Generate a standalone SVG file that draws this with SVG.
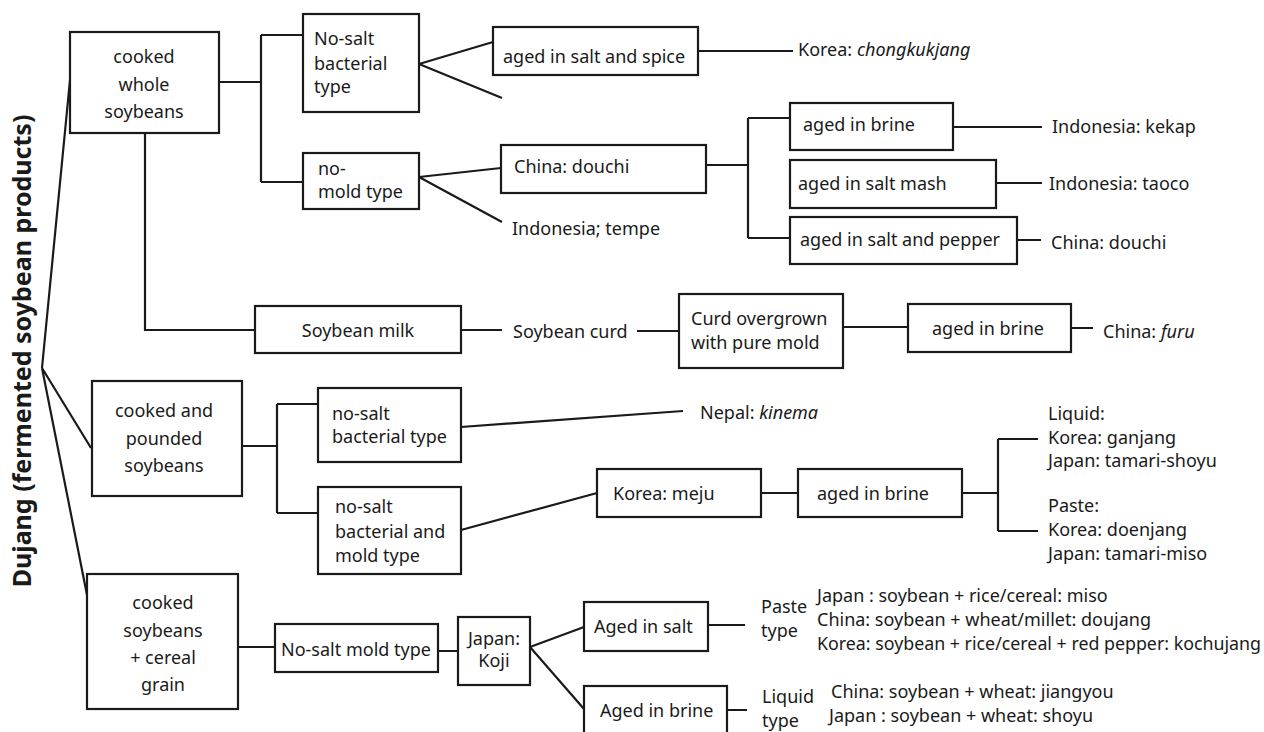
<svg xmlns="http://www.w3.org/2000/svg" width="1264" height="732" viewBox="0 0 1264 732">
<style>
  .bx{fill:#fff;stroke:#1a1a1a;stroke-width:2.2}
  .ln{fill:none;stroke:#1a1a1a;stroke-width:2.2}
  text{font-family:"Noto Sans","Open Sans","Liberation Sans",sans-serif;font-size:18px;fill:#1a1a1a}
  .c{text-anchor:middle}
  .i{font-style:italic}
  .title{font-weight:bold;font-size:25px}
</style>
<rect width="1264" height="732" fill="#fff"/>
<g id="connectors">
  <path class="ln" d="M42,368 L70,80 M42,368 L91,448 M42,368 L87,595"/>
  <path class="ln" d="M219,82 H261 M261,35 V182 M261,35 H303 M261,182 H303"/>
  <path class="ln" d="M145,133 V330 H255"/>
  <path class="ln" d="M419,64 L493,42 M419,64 L502,98"/>
  <path class="ln" d="M698,51 H793"/>
  <path class="ln" d="M419,177 L501,168 M419,177 L502,222"/>
  <path class="ln" d="M706,165 H748 M748,118 V238 M748,118 H790 M748,238 H790"/>
  <path class="ln" d="M953,127 H1042 M996,183 H1042 M1017,240 H1041"/>
  <path class="ln" d="M461,330 H502 M637,331 H679 M843,327 H908 M1071,328 H1093"/>
  <path class="ln" d="M241,446 H277 M277,404 V513 M277,404 H318 M277,513 H318"/>
  <path class="ln" d="M461,427 L683,411"/>
  <path class="ln" d="M461,530 L597,493 M761,493 H798"/>
  <path class="ln" d="M962,493 H998 M998,439 V531 M998,439 H1038 M998,531 H1038"/>
  <path class="ln" d="M238,647 H275 M438,651 H458 M530,647 L584,627 M530,647 L584,709 M708,625 H745 M727,710 H747"/>
</g>
<g id="root"><text class="title c" transform="translate(31,351) rotate(-90)">Dujang (fermented soybean products)</text></g>
<g id="whole"><rect class="bx" x="70" y="32" width="149" height="101"/>
  <text class="c" x="144" y="63">cooked</text><text class="c" x="144" y="91">whole</text><text class="c" x="144" y="118">soybeans</text></g>
<g id="nosalt-bact1"><rect class="bx" x="303" y="14" width="116" height="98"/>
  <text x="314" y="45">No-salt</text><text x="314" y="70">bacterial</text><text x="314" y="93">type</text></g>
<g id="nomold"><rect class="bx" x="303" y="153" width="116" height="56"/>
  <text x="318" y="175">no-</text><text x="318" y="198">mold type</text></g>
<g id="spice"><rect class="bx" x="493" y="27" width="205" height="48"/><text x="503" y="63">aged in salt and spice</text></g>
<g id="chongkukjang"><text x="798" y="56">Korea: <tspan class="i">chongkukjang</tspan></text></g>
<g id="douchi-box"><rect class="bx" x="501" y="145" width="205" height="48"/><text x="514" y="173">China: douchi</text></g>
<g id="tempe"><text x="512" y="235">Indonesia; tempe</text></g>
<g id="brine1"><rect class="bx" x="790" y="103" width="163" height="47"/><text x="803" y="131">aged in brine</text></g>
<g id="mash"><rect class="bx" x="790" y="160" width="206" height="48"/><text x="798" y="190">aged in salt mash</text></g>
<g id="pepper"><rect class="bx" x="790" y="217" width="227" height="47"/><text x="800" y="246">aged in salt and pepper</text></g>
<g id="kekap"><text x="1052" y="133">Indonesia: kekap</text></g>
<g id="taoco"><text x="1049" y="190">Indonesia: taoco</text></g>
<g id="douchi2"><text x="1051" y="249">China: douchi</text></g>
<g id="milk"><rect class="bx" x="255" y="306" width="206" height="47"/><text class="c" x="358" y="337">Soybean milk</text></g>
<g id="curd"><text x="513" y="338">Soybean curd</text></g>
<g id="curdmold"><rect class="bx" x="679" y="294" width="164" height="74"/>
  <text x="691" y="325">Curd overgrown</text><text x="691" y="349">with pure mold</text></g>
<g id="brine2"><rect class="bx" x="908" y="304" width="163" height="48"/><text x="932" y="335">aged in brine</text></g>
<g id="furu"><text x="1103" y="338">China: <tspan class="i">furu</tspan></text></g>
<g id="pounded"><rect class="bx" x="92" y="381" width="150" height="115"/>
  <text class="c" x="164" y="417">cooked and</text><text class="c" x="164" y="445">pounded</text><text class="c" x="164" y="472">soybeans</text></g>
<g id="nosalt-bact2"><rect class="bx" x="318" y="388" width="143" height="74"/>
  <text x="332" y="420">no-salt</text><text x="332" y="443">bacterial type</text></g>
<g id="kinema"><text x="700" y="419">Nepal: <tspan class="i">kinema</tspan></text></g>
<g id="bactmold"><rect class="bx" x="318" y="487" width="143" height="87"/>
  <text x="335" y="513">no-salt</text><text x="335" y="538">bacterial and</text><text x="335" y="562">mold type</text></g>
<g id="meju"><rect class="bx" x="597" y="469" width="164" height="48"/><text x="613" y="500">Korea: meju</text></g>
<g id="brine3"><rect class="bx" x="798" y="469" width="164" height="48"/><text x="817" y="500">aged in brine</text></g>
<g id="liquid-list"><text x="1048" y="420">Liquid:</text><text x="1048" y="444">Korea: ganjang</text><text x="1048" y="467">Japan: tamari-shoyu</text></g>
<g id="paste-list"><text x="1048" y="512">Paste:</text><text x="1048" y="536">Korea: doenjang</text><text x="1048" y="560">Japan: tamari-miso</text></g>
<g id="cereal"><rect class="bx" x="87" y="574" width="151" height="135"/>
  <text class="c" x="163" y="609">cooked</text><text class="c" x="163" y="637">soybeans</text><text class="c" x="163" y="664">+ cereal</text><text class="c" x="163" y="691">grain</text></g>
<g id="moldtype"><rect class="bx" x="275" y="624" width="163" height="48"/><text x="281" y="656">No-salt mold type</text></g>
<g id="koji"><rect class="bx" x="458" y="617" width="72" height="68"/>
  <text class="c" x="494" y="645">Japan:</text><text class="c" x="494" y="667">Koji</text></g>
<g id="agedsalt"><rect class="bx" x="584" y="602" width="124" height="49"/><text x="594" y="633">Aged in salt</text></g>
<g id="agedbrine"><rect class="bx" x="584" y="686" width="143" height="60"/><text x="600" y="717">Aged in brine</text></g>
<g id="paste-type"><text x="761" y="613">Paste</text><text x="761" y="637">type</text></g>
<g id="liquid-type"><text x="762" y="703">Liquid</text><text x="762" y="727">type</text></g>
<g id="paste-products"><text x="817" y="602">Japan : soybean + rice/cereal: miso</text><text x="817" y="626">China: soybean + wheat/millet: doujang</text><text x="817" y="650" textLength="444" lengthAdjust="spacingAndGlyphs">Korea: soybean + rice/cereal + red pepper: kochujang</text></g>
<g id="liquid-products"><text x="831" y="698">China: soybean + wheat: jiangyou</text><text x="829" y="722">Japan : soybean + wheat: shoyu</text></g>
</svg>
